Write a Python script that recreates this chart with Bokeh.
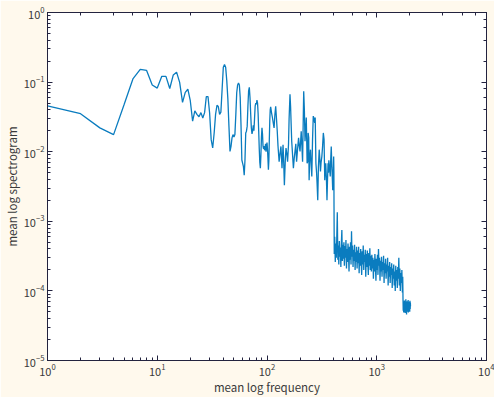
from bokeh.plotting import figure
from bokeh.models import Range1d, LogAxis, CustomJSTickFormatter
from bokeh.embed import file_html
from bokeh.resources import INLINE

# ---------------- data ----------------
# low-frequency bins 1..109
power_low = [
    0.0455, 0.0352, 0.0220, 0.0176, 0.048, 0.111, 0.152, 0.147, 0.091, 0.082,
    0.121, 0.121, 0.081, 0.127, 0.139, 0.099, 0.051, 0.071, 0.079, 0.054,
    0.0275, 0.0385, 0.0344, 0.0318, 0.0364, 0.0305, 0.0364, 0.062, 0.062, 0.036,
    0.0149, 0.0113, 0.0186, 0.0344, 0.0465, 0.0445, 0.0344, 0.037, 0.079, 0.164,
    0.179, 0.164, 0.105, 0.0569, 0.0233, 0.0101, 0.0119, 0.0158, 0.0176, 0.0163,
    0.0176, 0.0344, 0.071, 0.091, 0.097, 0.091, 0.060, 0.0233, 0.0076, 0.0068,
    0.0061, 0.0046, 0.0076, 0.0186, 0.0197, 0.0233, 0.045, 0.075, 0.084, 0.06,
    0.035, 0.022, 0.018, 0.02, 0.024, 0.02, 0.03, 0.045, 0.05, 0.048,
    0.055, 0.05, 0.035, 0.02, 0.011, 0.007, 0.0058, 0.009, 0.016, 0.022,
    0.018, 0.012, 0.011, 0.012, 0.0105, 0.011, 0.013, 0.01, 0.012, 0.0135,
    0.011, 0.008, 0.0055, 0.0075, 0.015, 0.028, 0.04, 0.044, 0.04,
]
freq_low = list(range(1, len(power_low) + 1))

freq_mid = [
    110, 112, 114, 116, 118, 120, 122, 124, 126, 129, 131, 134, 137, 140, 142,
    144, 147, 149, 152, 154, 157, 159, 162, 164, 166, 168, 171, 174, 177, 180,
    183, 186, 190, 194, 197, 200, 203, 205, 208, 211, 214, 216, 219, 222, 225,
    228, 230, 232, 235, 237, 240, 242, 245, 249, 252, 256, 260, 264, 268, 272,
    275, 279, 283, 286, 290, 294, 299, 303, 307, 311, 316, 321, 326, 331, 336,
    340, 343, 348, 352, 356, 360, 363, 366, 371, 377, 381, 385, 390, 394, 397,
    400, 403, 405, 407, 408,
]
power_mid = [
    0.036, 0.031, 0.026, 0.022, 0.034, 0.045, 0.03, 0.0197, 0.012, 0.0072,
    0.009, 0.0119, 0.0058, 0.0126, 0.007, 0.0033, 0.008, 0.0113, 0.009, 0.0072,
    0.0126, 0.03, 0.067, 0.045, 0.0246, 0.014, 0.009, 0.0058, 0.008, 0.0101,
    0.013, 0.0072, 0.011, 0.0158, 0.012, 0.0101, 0.015, 0.0197, 0.012, 0.0072,
    0.03, 0.0736, 0.04, 0.0141, 0.02, 0.031, 0.015, 0.0068, 0.0072, 0.0186,
    0.016, 0.0039, 0.008, 0.0107, 0.007, 0.0044, 0.015, 0.0325, 0.03, 0.026,
    0.031, 0.0068, 0.005, 0.0035, 0.002, 0.006, 0.0107, 0.008, 0.0052, 0.007,
    0.0085, 0.012, 0.0186, 0.015, 0.0039, 0.006, 0.0068, 0.004, 0.002, 0.004,
    0.0068, 0.005, 0.0075, 0.006, 0.0044, 0.008, 0.0119, 0.006, 0.004, 0.0028,
    0.0045, 0.006, 0.0085, 0.005, 0.0016,
]

freq_high = [
    410, 414, 419, 423, 428, 432, 437, 442, 446, 451, 456, 461, 466, 471, 476,
    481, 486, 491, 497, 502,
    507, 513, 518, 524, 530, 535, 541, 547, 553, 559, 565, 571, 577, 583, 589,
    595, 602, 608, 615, 621, 628, 635, 641, 648, 655,
    662, 669, 677, 684, 691, 699, 706, 714, 721, 729, 737, 745, 753, 761, 769,
    777, 786, 794, 803, 811, 820, 829, 838, 847, 856, 865, 874, 884, 893,
    903, 912, 922, 932, 942, 952, 962, 973, 983, 994, 1004, 1015, 1026, 1037,
    1048, 1059, 1071, 1082, 1094, 1105, 1117, 1129, 1141, 1154, 1166, 1178,
    1191, 1204, 1217, 1230, 1243, 1256, 1270, 1283,
    1297, 1311, 1325, 1339, 1354, 1368, 1383, 1398, 1413, 1428, 1443, 1459,
    1474, 1490, 1506, 1522, 1539, 1555, 1572, 1589, 1606, 1623, 1640, 1658,
    1676, 1694, 1712, 1725,
    1735, 1743, 1752, 1760, 1769, 1778, 1787, 1796, 1805, 1814, 1823, 1832,
    1841, 1850, 1859, 1868, 1877, 1886, 1895, 1905, 1914, 1923, 1932, 1942,
    1951, 1960, 1970, 1979, 1989, 1998, 2008, 2017, 2024, 2030,
]
power_high = [
    3.4e-4, 6.0e-4, 2.6e-4, 4.8e-4, 3.0e-4, 5.5e-4, 1.35e-3, 2.8e-4, 4.5e-4, 2.4e-4,
    5.2e-4, 3.1e-4, 4.2e-4, 2.2e-4, 4.9e-4, 7.5e-4, 2.7e-4, 4.6e-4, 2.9e-4, 5.0e-4,
    2.3e-4, 4.4e-4, 3.0e-4, 5.4e-4, 2.1e-4, 4.0e-4, 2.6e-4, 4.8e-4, 3.3e-4, 1.9e-4,
    4.3e-4, 2.8e-4, 5.0e-4, 2.4e-4, 7.2e-4, 3.1e-4, 4.5e-4, 2.2e-4, 3.9e-4, 2.7e-4,
    4.6e-4, 2.0e-4, 3.6e-4, 2.6e-4, 4.3e-4,
    2.1e-4, 3.8e-4, 2.5e-4, 4.3e-4, 1.8e-4, 3.5e-4, 2.3e-4, 4.0e-4, 2.7e-4, 1.7e-4,
    3.7e-4, 2.4e-4, 4.5e-4, 2.0e-4, 3.3e-4, 2.6e-4, 3.9e-4, 1.6e-4, 3.4e-4, 2.2e-4,
    3.8e-4, 2.5e-4, 1.7e-4, 3.5e-4, 2.3e-4, 4.1e-4, 2.0e-4, 3.2e-4, 1.9e-4,
    3.3e-4, 2.1e-4, 3.0e-4, 1.5e-4, 2.8e-4, 1.9e-4, 3.4e-4, 2.2e-4, 1.4e-4, 2.9e-4,
    2.0e-4, 3.3e-4, 1.7e-4, 4.0e-4, 2.3e-4, 3.0e-4, 1.4e-4, 2.7e-4, 1.9e-4, 3.1e-4,
    1.6e-4, 2.6e-4, 2.0e-4, 3.2e-4, 1.3e-4, 2.5e-4, 1.8e-4, 2.9e-4, 1.5e-4, 2.4e-4,
    1.9e-4, 3.0e-4, 1.2e-4, 2.3e-4,
    1.6e-4, 2.6e-4, 1.3e-4, 2.2e-4, 1.7e-4, 2.5e-4, 1.1e-4, 2.1e-4, 1.5e-4, 2.4e-4,
    1.2e-4, 1.9e-4, 1.0e-4, 2.3e-4, 1.4e-4, 2.0e-4, 1.1e-4, 2.2e-4, 1.5e-4, 3.0e-4,
    1.2e-4, 2.1e-4, 1.0e-4, 1.8e-4, 1.3e-4, 2.0e-4, 9.5e-5, 1.6e-4,
    7.5e-5, 5.2e-5, 7.0e-5, 4.9e-5, 6.6e-5, 5.5e-5, 7.3e-5, 5.0e-5, 6.2e-5, 4.8e-5,
    6.9e-5, 5.4e-5, 7.6e-5, 5.1e-5, 6.4e-5, 4.6e-5, 6.8e-5, 5.3e-5, 7.1e-5, 5.0e-5,
    6.3e-5, 5.6e-5, 7.4e-5, 4.9e-5, 6.5e-5, 5.2e-5, 7.0e-5, 5.7e-5, 6.6e-5, 5.0e-5,
    7.2e-5, 5.5e-5, 6.8e-5, 6.0e-5,
]

freq = freq_low + freq_mid + freq_high
power = power_low + power_mid + power_high

x_label = "mean log frequency"
y_label = "mean log spectrogram"

# ---------------- style ----------------
BG = "#FFF9ED"
AX = "#23233F"
TXT = "#3A3A3A"
LINE = "#0A7CBF"
FONT = "Noto Sans CJK JP"

p = figure(
    width=494, height=397,
    x_axis_type="log", y_axis_type="log",
    x_range=Range1d(1, 1e4), y_range=Range1d(1e-5, 1),
    output_backend="svg", toolbar_location=None,
    background_fill_color="white", border_fill_color=BG,
    min_border_left=45, min_border_right=8,
    min_border_top=12, min_border_bottom=37,
)
p.grid.visible = False
p.outline_line_color = AX
p.outline_line_width = 1

p.line(freq, power, line_color=LINE, line_width=1.3)


def style_axis(ax, labels=True):
    ax.axis_line_color = AX
    ax.major_tick_line_color = AX
    ax.minor_tick_line_color = AX
    ax.major_tick_in = 5
    ax.major_tick_out = 0
    ax.minor_tick_in = 3
    ax.minor_tick_out = 0
    if labels:
        ax.major_label_text_font = FONT
        ax.major_label_text_font_size = "11px"
        ax.major_label_text_color = TXT
        ax.major_label_standoff = 3
        ax.axis_label_text_font = FONT
        ax.axis_label_text_font_size = "11.5px"
        ax.axis_label_text_font_style = "normal"
        ax.axis_label_text_color = TXT
        ax.axis_label_standoff = 1
    else:
        ax.formatter = CustomJSTickFormatter(code="return ''")
        ax.major_label_text_font_size = "1px"
        ax.major_label_standoff = 0
        ax.axis_label_standoff = 0


style_axis(p.xaxis[0])
style_axis(p.yaxis[0])
p.xaxis[0].axis_label = x_label
p.yaxis[0].axis_label = y_label
p.xaxis[0].axis_label_standoff = 0

top = LogAxis()
right = LogAxis()
style_axis(top, labels=False)
style_axis(right, labels=False)
p.add_layout(top, "above")
p.add_layout(right, "right")

html = file_html(p, INLINE)
html = html.replace("<body>", '<body style="background:%s">' % BG, 1)
open("out.html", "w").write(html)
